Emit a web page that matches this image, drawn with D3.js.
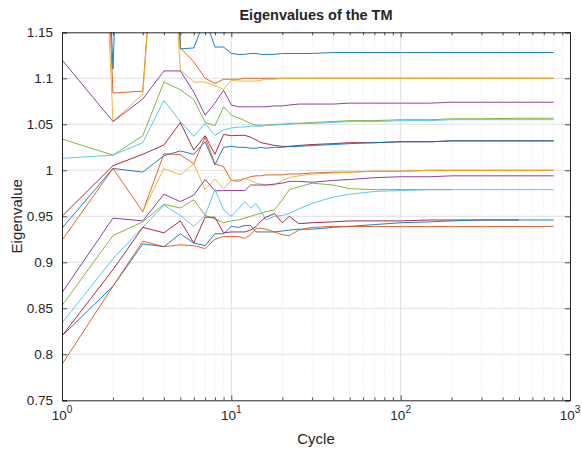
<!DOCTYPE html>
<html><head><meta charset="utf-8">
<script src="https://cdn.jsdelivr.net/npm/d3@7"></script>
<style>
body{margin:0;background:#fff}
svg{display:block}
text{font-family:"Liberation Sans",Arial,Helvetica,sans-serif;fill:#262626}
</style>
</head><body>
<svg id="chart" width="582" height="450"></svg>
<script>
// ---------- data ----------
const cycles = [1,2,3,4,5,6,7,8,9,10,11,12,13,14,15,16,18,20,22,25,30,40,50,70,100,150,200,300,500,800];
const colorOrder = ["#0072BD","#D95319","#EDB120","#7E2F8E","#77AC30","#4DBEEE","#A2142F"];
const s1  = [2.5,1.11,2.0,2.0,1.132,1.133,1.165,1.134,1.134,1.127,1.126,1.126,1.127,1.127,1.126,1.126,1.126,1.127,1.127,1.127,1.127,1.128,1.128,1.128,1.128,1.128,1.128,1.128,1.128,1.128];
const s2  = [2.4,1.084,1.086,1.4,1.133,1.118,1.1,1.0945,1.099,1.099,1.099,1.1,1.1,1.1,1.1,1.1,1.1,1.1,1.1,1.1,1.1,1.1,1.1,1.1,1.1,1.1,1.1,1.1,1.1,1.1];
const s3  = [2.3,1.053,1.083,1.4,1.109,1.096,1.096,1.092,1.088,1.098,1.097,1.097,1.097,1.097,1.098,1.099,1.099,1.1,1.1,1.1,1.1,1.1,1.1,1.1,1.1,1.1,1.1,1.1,1.1,1.1];
const s4  = [1.12,1.053,1.0775,1.108,1.108,1.085,1.06,1.073,1.087,1.071,1.069,1.069,1.069,1.069,1.069,1.069,1.07,1.07,1.071,1.072,1.072,1.072,1.073,1.073,1.073,1.073,1.074,1.074,1.074,1.074];
const s5  = [1.034,1.0165,1.0376,1.096,1.0876,1.077,1.052,1.0485,1.069,1.06,1.057,1.054,1.051,1.049,1.049,1.049,1.05,1.05,1.051,1.051,1.052,1.053,1.054,1.054,1.055,1.055,1.056,1.056,1.0565,1.0565];
const s6  = [1.013,1.0165,1.03,1.076,1.053,1.037,1.051,1.038,1.044,1.046,1.047,1.047,1.048,1.048,1.048,1.049,1.049,1.05,1.05,1.051,1.051,1.052,1.053,1.053,1.054,1.054,1.055,1.055,1.055,1.055];
const s7  = [0.95,1.005,1.0174,1.0275,1.052,1.022,1.0376,1.0174,1.039,1.0376,1.038,1.038,1.036,1.033,1.03,1.029,1.027,1.026,1.026,1.027,1.028,1.029,1.03,1.03,1.031,1.031,1.032,1.032,1.032,1.032];
const s8  = [0.937,1.002,0.998,1.016,1.021,1.0174,1.031,1.006,1.025,1.026,1.025,1.025,1.024,1.024,1.025,1.024,1.025,1.025,1.026,1.026,1.027,1.028,1.029,1.03,1.031,1.031,1.032,1.032,1.032,1.032];
const s9  = [0.924,1.002,0.955,1.018,1.017,1.007,1.036,1.007,1.004,0.989,0.988,0.991,0.993,0.994,0.994,0.995,0.995,0.995,0.996,0.996,0.997,0.998,0.998,0.999,0.999,1.0,1.0,1.0,1.0,1.0];
const s10 = [null,null,0.955,1.002,0.995,1.007,0.979,0.9905,0.98,0.989,0.99,0.991,0.989,0.986,0.985,0.984,0.984,0.989,0.992,0.994,0.996,0.997,0.998,0.999,0.999,1.0,1.0,1.0,1.0,1.0];
const s11 = [0.867,0.948,0.945,0.974,0.966,0.973,0.99,0.9776,0.978,0.978,0.978,0.978,0.984,0.984,0.984,0.984,0.985,0.986,0.988,0.988,0.987,0.989,0.99,0.992,0.993,0.993,0.994,0.994,0.994,0.994];
const s12 = [0.853,0.929,0.944,0.963,0.959,0.968,0.951,0.947,0.943,0.945,0.946,0.948,0.95,0.952,0.953,0.955,0.957,0.968,0.979,0.982,0.986,0.984,0.98,0.979,0.979,0.979,0.979,null,null,null];
const s13 = [0.834,0.904,0.938,0.962,0.951,0.939,0.951,0.979,0.957,0.95,0.958,0.966,0.959,0.964,0.955,0.946,0.95,0.951,0.953,0.958,0.964,0.971,0.974,0.977,0.978,0.979,0.979,0.979,0.979,0.979];
const s14 = [0.82,0.892,0.938,0.932,0.945,0.921,0.949,0.949,0.932,0.933,0.933,0.933,0.935,0.939,0.945,0.949,0.953,0.943,0.95,0.942,0.943,0.944,0.945,0.945,0.945,0.946,0.946,0.946,0.946,null];
const s15 = [0.82,0.874,0.92,0.917,0.931,0.921,0.918,0.931,0.931,0.939,0.938,0.94,0.94,0.933,0.933,0.933,0.933,0.934,0.935,0.936,0.936,0.938,0.939,0.941,0.943,0.944,0.945,0.946,0.946,0.946];
const s16 = [0.789,0.874,0.923,0.917,0.919,0.918,0.915,0.925,0.928,0.928,0.928,0.926,0.93,0.937,0.937,0.936,0.933,0.93,0.929,0.935,0.938,0.939,0.939,0.939,0.939,0.939,0.939,0.939,0.939,0.939];
const allSeries = [s1,s2,s3,s4,s5,s6,s7,s8,s9,s10,s11,s12,s13,s14,s15,s16];

const yTicks = [0.75,0.8,0.85,0.9,0.95,1,1.05,1.1,1.15];
const yTickLabels = ["0.75","0.8","0.85","0.9","0.95","1","1.05","1.1","1.15"];
const xTicks = [1,10,100,1000];
const xTickExponents = ["0","1","2","3"];
const titleText = "Eigenvalues of the TM";
const xLabel = "Cycle";
const yLabel = "Eigenvalue";

// ---------- layout ----------
const L = 62, R = 570, T = 32.3, B = 400.3;
const svg = d3.select("#chart");
const x = d3.scaleLog().domain([1,1000]).range([L,R]);
const y = d3.scaleLinear().domain([0.75,1.15]).range([B,T]);

const minorX = [];
[1,10,100].forEach(d => { for (let k=2;k<=9;k++) minorX.push(d*k); });

// grid
const grid = svg.append("g");
grid.selectAll("line.minor").data(minorX).enter().append("line")
  .attr("x1", d=>x(d)).attr("x2", d=>x(d)).attr("y1", T).attr("y2", B)
  .attr("stroke", "#d4d4d4").attr("stroke-width", 0.6).attr("stroke-dasharray", "1,2");
grid.selectAll("line.majx").data([10,100]).enter().append("line")
  .attr("x1", d=>x(d)).attr("x2", d=>x(d)).attr("y1", T).attr("y2", B)
  .attr("stroke", "#e1e1e1").attr("stroke-width", 1);
grid.selectAll("line.majy").data(yTicks.slice(1,-1)).enter().append("line")
  .attr("x1", L).attr("x2", R).attr("y1", d=>y(d)).attr("y2", d=>y(d))
  .attr("stroke", "#e1e1e1").attr("stroke-width", 1);

// clip
svg.append("clipPath").attr("id","clip").append("rect")
  .attr("x", L).attr("y", T).attr("width", R-L).attr("height", B-T);

const line = d3.line().defined(d => d[1] != null).x(d => x(d[0])).y(d => y(d[1]));
const lines = svg.append("g").attr("clip-path","url(#clip)");
allSeries.forEach((vals,i) => {
  const pts = cycles.map((c,j) => [c, vals[j]]);
  lines.append("path").datum(pts).attr("d", line)
    .attr("fill","none").attr("stroke", colorOrder[i % colorOrder.length])
    .attr("stroke-width", 0.9).attr("stroke-linejoin","round");
});

// axes
const axisColor = "#262626";
const ax = svg.append("g");
const xb = ax.append("g").attr("transform", `translate(0,${B})`)
  .call(d3.axisBottom(x).tickValues(xTicks).tickSize(-5).tickPadding(8).tickFormat(""));
const xt = ax.append("g").attr("transform", `translate(0,${T})`)
  .call(d3.axisTop(x).tickValues(xTicks).tickSize(-5).tickFormat(""));
const xbm = ax.append("g").attr("transform", `translate(0,${B})`)
  .call(d3.axisBottom(x).tickValues(minorX).tickSize(-3).tickSizeOuter(0).tickFormat(""));
const xtm = ax.append("g").attr("transform", `translate(0,${T})`)
  .call(d3.axisTop(x).tickValues(minorX).tickSize(-3).tickSizeOuter(0).tickFormat(""));
const yl = ax.append("g").attr("transform", `translate(${L},0)`)
  .call(d3.axisLeft(y).tickValues(yTicks).tickSize(-5).tickPadding(9).tickFormat((d,i)=>yTickLabels[i]));
const yr = ax.append("g").attr("transform", `translate(${R},0)`)
  .call(d3.axisRight(y).tickValues(yTicks).tickSize(-5).tickFormat(""));
[xb,xt,xbm,xtm,yl,yr].forEach(g => {
  g.selectAll("path").attr("stroke", axisColor).attr("stroke-width", 1);
  g.selectAll("line").attr("stroke", axisColor).attr("stroke-width", 0.8);
});
xbm.selectAll("path").remove(); xtm.selectAll("path").remove();
yl.selectAll("text").attr("font-size", 13.5).attr("fill", axisColor)
  .attr("font-family", '"Liberation Sans",Arial,sans-serif');

// x tick labels with superscripts
const xl = ax.append("g");
xTicks.forEach((t,i) => {
  const tx = xl.append("text").attr("x", x(t)).attr("y", 420)
    .attr("text-anchor","middle").attr("font-size", 13.5);
  tx.append("tspan").text("10");
  tx.append("tspan").attr("dy", -7).attr("font-size", 10).text(xTickExponents[i]);
});

// titles
svg.append("text").attr("x", (L+R)/2).attr("y", 20).attr("text-anchor","middle")
  .attr("font-size", 14.5).attr("font-weight","bold").attr("fill","#000").text(titleText);
svg.append("text").attr("x", (L+R)/2).attr("y", 444).attr("text-anchor","middle")
  .attr("font-size", 15).text(xLabel);
svg.append("text").attr("transform", `translate(22,${(T+B)/2}) rotate(-90)`)
  .attr("text-anchor","middle").attr("font-size", 15).text(yLabel);
</script>
</body></html>
